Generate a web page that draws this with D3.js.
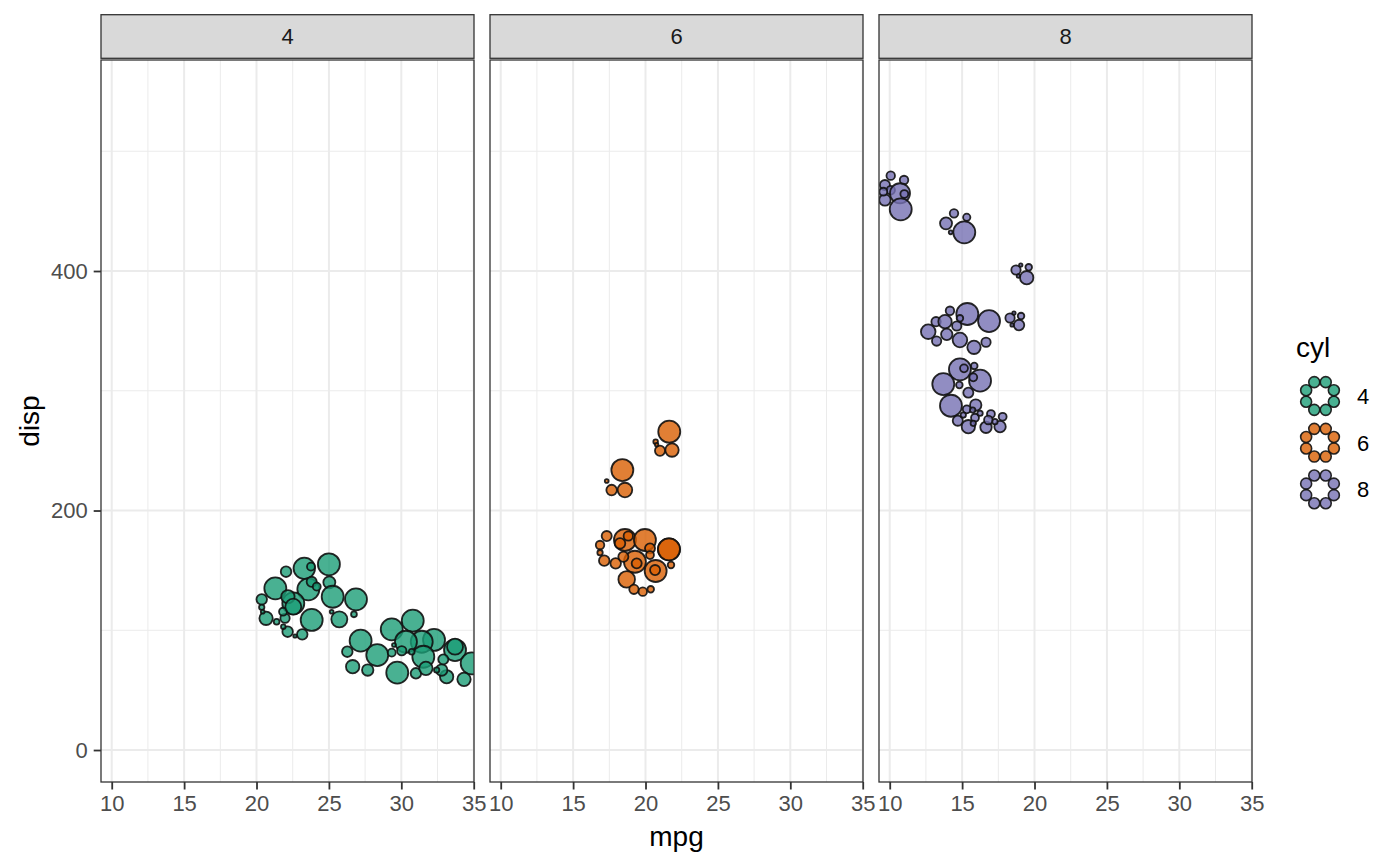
<!DOCTYPE html>
<html>
<head>
<meta charset="utf-8">
<script src="https://cdn.jsdelivr.net/npm/d3@7"></script>
<style>
  body { margin: 0; background: #fff; }
  text { font-family: "Liberation Sans", Arial, Helvetica, sans-serif; }
</style>
</head>
<body>
<div id="chart"></div>
<script>
// facets and colours (Dark2)
const facets = ["4", "6", "8"]
const colours = ["#1B9E77", "#D95F02", "#7570B3"]

const xMajor = [10, 15, 20, 25, 30, 35]
const xMinor = [12.5, 17.5, 22.5, 27.5, 32.5]
const yMajor = [0, 200, 400]
const yMinor = [100, 300, 500]

// circles: [mpg, disp, weight]
const cyl4 = [
  [25.0, 155.1, 100], [23.3, 151.7, 95], [23.76, 153.1, 13], [22.04, 148.9, 23],
  [21.3, 135.0, 100], [23.58, 134.2, 100], [25.03, 140.0, 30], [22.54, 122.5, 100],
  [25.26, 128.0, 100], [26.87, 125.8, 100], [23.81, 108.6, 100], [25.72, 109.1, 53],
  [20.36, 125.8, 23], [20.66, 110.0, 37], [21.97, 110.0, 18], [21.39, 107.1, 7],
  [22.15, 98.8, 23], [23.16, 96.6, 23], [22.66, 95.2, 2.4], [21.85, 103.0, 4.4],
  [26.73, 113.3, 7], [20.36, 119.2, 6], [20.43, 115.5, 3], [21.83, 115.5, 13],
  [25.19, 115.5, 3], [23.81, 140.5, 21], [24.16, 136.4, 13], [22.17, 128.0, 37],
  [22.54, 119.7, 53],
  [30.79, 108.0, 100], [29.34, 100.8, 100], [27.19, 91.3, 100], [28.34, 79.3, 100],
  [26.27, 82.1, 23], [26.64, 69.6, 37], [27.68, 66.8, 27], [29.72, 64.6, 100],
  [31.01, 64.1, 23], [32.26, 91.9, 100], [31.41, 90.4, 100], [30.32, 90.4, 100],
  [31.52, 77.9, 100], [31.70, 68.2, 37], [33.71, 83.5, 100], [33.71, 86.3, 53],
  [34.86, 72.4, 100], [33.13, 61.2, 37], [34.33, 59.0, 37], [32.79, 66.8, 27],
  [32.90, 75.7, 21], [30.03, 82.9, 18], [29.34, 81.3, 13], [30.72, 82.1, 7],
  [29.49, 87.7, 3], [32.44, 66.8, 6]
]

const cyl6 = [
  [21.64, 265.8, 100], [21.83, 250.5, 37], [21.0, 249.9, 21], [20.70, 257.5, 4.4],
  [20.77, 255.0, 2.4], [18.40, 233.8, 100], [18.58, 217.1, 44], [17.66, 217.1, 23],
  [17.32, 224.6, 3],
  [18.58, 175.4, 100], [19.96, 175.4, 100], [21.62, 167.6, 100], [21.62, 167.6, 100],
  [19.27, 157.2, 100], [20.70, 149.5, 100], [18.70, 142.5, 57], [17.32, 178.7, 21],
  [16.86, 171.2, 15], [16.86, 164.8, 6], [17.15, 158.1, 23], [17.94, 155.9, 23],
  [19.20, 134.2, 18], [19.81, 132.2, 15], [20.36, 134.2, 9], [21.76, 154.5, 9],
  [20.31, 168.4, 21], [18.24, 172.6, 23], [18.81, 178.7, 18], [18.47, 161.4, 21],
  [20.66, 150.3, 21], [19.39, 155.9, 21], [20.31, 162.8, 13]
]

const cyl8 = [
  [10.07, 479.6, 15], [10.99, 476.0, 15], [9.67, 471.8, 21], [10.07, 467.6, 15],
  [10.71, 464.9, 83], [11.01, 464.3, 13], [9.67, 459.3, 27], [10.76, 451.5, 100],
  [9.56, 466.2, 13],
  [14.44, 448.2, 15], [15.32, 444.8, 11], [13.89, 439.8, 30], [15.15, 432.3, 100],
  [14.21, 432.3, 3],
  [18.72, 400.8, 18], [19.60, 403.1, 9], [19.05, 405.0, 2.4], [19.46, 394.4, 37],
  [18.88, 395.8, 2.4],
  [15.36, 364.1, 100], [16.86, 358.2, 100], [14.16, 366.8, 15], [13.20, 357.7, 18],
  [13.82, 357.7, 37], [12.66, 349.3, 44], [13.94, 347.1, 27], [14.85, 342.4, 44],
  [13.24, 341.5, 18], [15.82, 336.3, 37], [16.65, 340.5, 18], [14.63, 354.1, 18],
  [14.85, 360.5, 9],
  [18.31, 360.8, 18], [19.07, 362.4, 9], [18.93, 354.9, 23], [18.58, 364.9, 2.4],
  [18.45, 354.9, 2.4],
  [14.85, 317.9, 100], [16.24, 308.4, 100], [13.70, 305.6, 100], [15.84, 320.7, 9],
  [14.81, 304.8, 9], [15.43, 298.4, 21], [15.13, 318.7, 13], [15.77, 311.2, 13],
  [14.23, 287.5, 100], [15.94, 288.1, 27], [15.32, 284.5, 13], [14.70, 275.0, 21],
  [15.89, 277.5, 13], [15.73, 283.9, 6], [15.43, 270.0, 37], [16.65, 269.5, 27],
  [17.62, 270.0, 27], [16.99, 280.6, 13], [17.80, 278.3, 13], [16.24, 281.2, 6],
  [16.81, 275.6, 15], [17.27, 274.2, 6], [15.77, 272.8, 6], [15.08, 279.7, 6]
]

const panelData = [cyl4, cyl6, cyl8]

// layout
const W = 1400, H = 866
const panelTop = 60, panelBottom = 782
const panelW = 373, gap = 16, firstLeft = 101
const stripTop = 14.7, stripH = 43.6
const tickFont = 22, titleFont = 28

const x = d3.scaleLinear().domain([9.26, 35.02]).range([0, panelW])
const y = d3.scaleLinear().domain([-26.7, 576.2]).range([panelBottom, panelTop])
const radius = d3.scaleSqrt().domain([0, 100]).range([0, 11])

const svg = d3.select("#chart").append("svg")
  .attr("width", W).attr("height", H)

facets.forEach((f, i) => {
  const left = firstLeft + i * (panelW + gap)
  const g = svg.append("g").attr("transform", `translate(${left},0)`)

  // background + grid
  g.append("rect")
    .attr("x", 0).attr("y", panelTop)
    .attr("width", panelW).attr("height", panelBottom - panelTop)
    .attr("fill", "#fff")

  g.selectAll(".ymin").data(yMinor).join("line")
    .attr("x1", 0).attr("x2", panelW)
    .attr("y1", d => y(d)).attr("y2", d => y(d))
    .attr("stroke", "#EBEBEB").attr("stroke-width", 1)
  g.selectAll(".xmin").data(xMinor).join("line")
    .attr("x1", d => x(d)).attr("x2", d => x(d))
    .attr("y1", panelTop).attr("y2", panelBottom)
    .attr("stroke", "#EBEBEB").attr("stroke-width", 1)
  g.selectAll(".ymaj").data(yMajor).join("line")
    .attr("x1", 0).attr("x2", panelW)
    .attr("y1", d => y(d)).attr("y2", d => y(d))
    .attr("stroke", "#EBEBEB").attr("stroke-width", 2)
  g.selectAll(".xmaj").data(xMajor).join("line")
    .attr("x1", d => x(d)).attr("x2", d => x(d))
    .attr("y1", panelTop).attr("y2", panelBottom)
    .attr("stroke", "#EBEBEB").attr("stroke-width", 2)

  // circles, clipped to the panel
  const clipId = "clip" + i
  g.append("clipPath").attr("id", clipId)
    .append("rect")
    .attr("x", 0).attr("y", panelTop)
    .attr("width", panelW).attr("height", panelBottom - panelTop)

  g.append("g").attr("clip-path", `url(#${clipId})`)
    .selectAll("circle").data(panelData[i]).join("circle")
    .attr("cx", d => x(d[0]))
    .attr("cy", d => y(d[1]))
    .attr("r", d => radius(d[2]))
    .attr("fill", colours[i]).attr("fill-opacity", 0.8)
    .attr("stroke", "#111").attr("stroke-opacity", 0.9)
    .attr("stroke-width", 1.8)

  // panel border
  g.append("rect")
    .attr("x", 0).attr("y", panelTop)
    .attr("width", panelW).attr("height", panelBottom - panelTop)
    .attr("fill", "none").attr("stroke", "#333").attr("stroke-width", 1.3)

  // strip
  g.append("rect")
    .attr("x", 0).attr("y", stripTop)
    .attr("width", panelW).attr("height", stripH)
    .attr("fill", "#D9D9D9").attr("stroke", "#333").attr("stroke-width", 1.3)
  g.append("text")
    .attr("x", panelW / 2).attr("y", stripTop + stripH / 2)
    .attr("dy", "0.36em")
    .attr("text-anchor", "middle")
    .attr("font-size", tickFont).attr("fill", "#1A1A1A")
    .text(f)

  // x axis
  const xa = g.append("g")
    .attr("transform", `translate(0,${panelBottom})`)
    .call(d3.axisBottom(x).tickValues(xMajor).tickSize(7.5).tickPadding(6))
  xa.select(".domain").remove()
  xa.selectAll("line").attr("stroke", "#333").attr("stroke-width", 1.8)
  xa.selectAll("text").attr("font-size", tickFont).attr("fill", "#4D4D4D")
    .attr("font-family", null)

  // y axis only on first panel
  if (i === 0) {
    const ya = g.append("g")
      .call(d3.axisLeft(y).tickValues(yMajor).tickSize(7.3).tickPadding(6))
    ya.select(".domain").remove()
    ya.selectAll("line").attr("stroke", "#333").attr("stroke-width", 1.8)
    ya.selectAll("text").attr("font-size", tickFont).attr("fill", "#4D4D4D")
      .attr("font-family", null)
  }
})

// axis titles
svg.append("text")
  .attr("x", firstLeft + (3 * panelW + 2 * gap) / 2).attr("y", 846)
  .attr("text-anchor", "middle").attr("font-size", titleFont).attr("fill", "#000")
  .text("mpg")
svg.append("text")
  .attr("transform", `translate(39,${(panelTop + panelBottom) / 2}) rotate(-90)`)
  .attr("text-anchor", "middle").attr("font-size", titleFont).attr("fill", "#000")
  .text("disp")

// legend
const legend = svg.append("g")
legend.append("text")
  .attr("x", 1296).attr("y", 357)
  .attr("font-size", titleFont).attr("fill", "#000")
  .text("cyl")

const ring = d3.range(8).map(k => (22.5 + k * 45) * Math.PI / 180)
facets.forEach((f, i) => {
  const cy = 396 + i * 46.7
  const key = legend.append("g").attr("transform", `translate(1320,${cy})`)
  key.selectAll("circle").data(ring).join("circle")
    .attr("cx", a => 15 * Math.cos(a))
    .attr("cy", a => 15 * Math.sin(a))
    .attr("r", 5.5)
    .attr("fill", colours[i]).attr("fill-opacity", 0.8)
    .attr("stroke", "#111").attr("stroke-opacity", 0.9).attr("stroke-width", 1.6)
  legend.append("text")
    .attr("x", 1357).attr("y", cy).attr("dy", "0.36em")
    .attr("font-size", tickFont).attr("fill", "#000")
    .text(f)
})
</script>
</body>
</html>
